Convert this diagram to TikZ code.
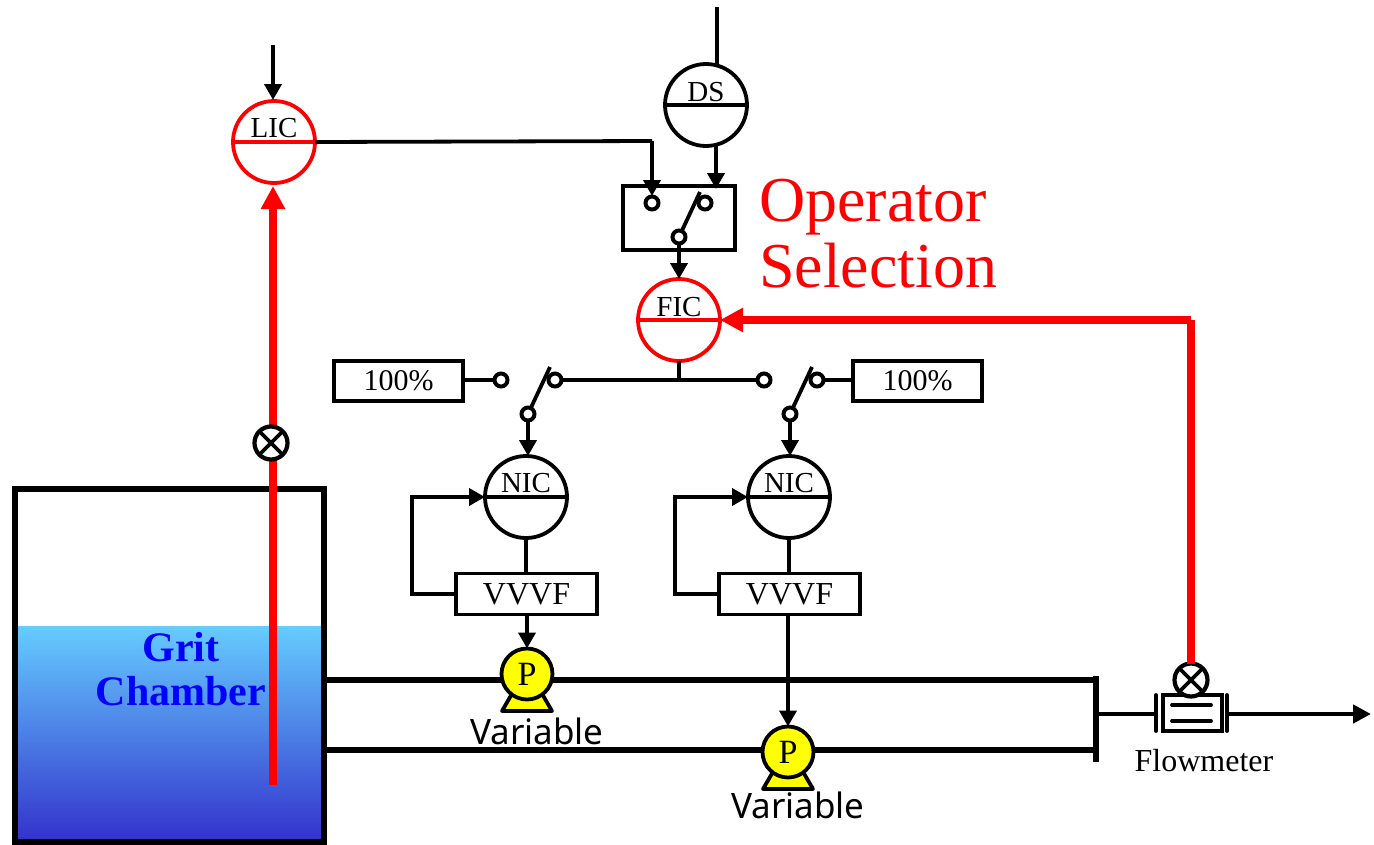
\documentclass[tikz,border=0pt]{standalone}
\usepackage{fontspec}
\setmainfont{Liberation Serif}
\newfontfamily\varfont{Noto Sans}
\usetikzlibrary{arrows.meta}
\definecolor{waterTop}{HTML}{66CCFF}
\definecolor{waterBot}{HTML}{3333CC}
\definecolor{pumpYellow}{HTML}{FFFF00}
\tikzset{
  inst/.style={circle,draw=black,line width=3.8pt,fill=white,minimum size=82pt,inner sep=0pt,outer sep=0pt},
  redinst/.style={inst,draw=red},
  lab/.style={font=\fontsize{29}{29}\selectfont,text=black,inner sep=0pt},
  bline/.style={draw=black,line width=3.8pt},
  barrow/.style={bline,-{Triangle[length=16pt,width=17pt]}},
  rline/.style={draw=red,line width=8pt},
  rarrow/.style={rline,-{Triangle[length=23pt,width=23pt]}},
  pipe/.style={draw=black,line width=5.5pt},
  contact/.style={circle,draw=black,line width=4pt,fill=white,minimum size=13pt,inner sep=0pt,outer sep=0pt},
  valve/.style={circle,draw=black,line width=4.2pt,fill=white,minimum size=33pt,inner sep=0pt,outer sep=0pt},
  box/.style={draw=black,line width=3.8pt,fill=white,inner sep=0pt,outer sep=0pt,font=\fontsize{30}{30}\selectfont},
  vvvf/.style={box,minimum width=141pt,minimum height=41pt,font=\fontsize{32}{32}\selectfont},
  pump/.style={circle,draw=black,line width=3.8pt,fill=pumpYellow,minimum size=51pt,inner sep=0pt,outer sep=0pt,font=\fontsize{34}{34}\selectfont},
  pumpbase/.style={draw=black,line width=3.8pt,fill=pumpYellow,line join=round},
  varlab/.style={font=\varfont\fontsize{35}{35}\selectfont,inner sep=0pt},
}
\begin{document}
\begin{tikzpicture}[x=1pt,y=-1pt]
\useasboundingbox (0,0) rectangle (1374,844);
% tank
\fill[top color=waterTop,bottom color=waterBot] (17,626) rectangle (322,840);
\node[draw=black,line width=6pt,minimum width=309pt,minimum height=353pt,inner sep=0pt,outer sep=0pt] (tank) at (169.5,665) {};
\node[font=\bfseries\fontsize{42}{44}\selectfont,text=blue,align=center,inner sep=0pt] (gc) at (181,669) {Grit\\Chamber};
% instruments
\node[redinst] (lic) at (274,142) {};
\node[inst] (ds) at (706,105) {};
\node[redinst] (fic) at (679,320) {};
\node[inst] (nica) at (526,497) {};
\node[inst] (nicb) at (789,497) {};
\node[lab] (liclab) at (274,128) {LIC};
\node[lab] (dslab) at (706,92) {DS};
\node[lab] (ficlab) at (679,307) {FIC};
\node[lab] (nicalab) at (526,483) {NIC};
\node[lab] (nicblab) at (789,483) {NIC};
\draw[draw=red,line width=3.8pt] (lic.west) -- (lic.east);
\draw[bline] (ds.west) -- (ds.east);
\draw[draw=red,line width=3.8pt] (fic.west) -- (fic.east);
\draw[bline] (nica.west) -- (nica.east);
\draw[bline] (nicb.west) -- (nicb.east);
% free-end coordinates
\coordinate (licin) at (273,45);
\coordinate (dsin) at (717,7);
\coordinate (swa) at (652,196);
\coordinate (swb) at (716,189);
\coordinate (licarr) at (273,186);
\coordinate (sensbot) at (273,785);
\coordinate (corner) at (1191,320);
\coordinate (out) at (1371,714);
% selector box
\node[box,minimum width=112pt,minimum height=64pt] (selbox) at (679,218) {};
\node[contact] (ca) at (652,203) {};
\node[contact] (cb) at (705,203) {};
\draw[bline] (679,237) -- (700,192);
\node[contact] (cc) at (679,237) {};
\draw[barrow] (licin) -- (273,100);
\draw[bline] (dsin) -- (717,64);
\draw[bline] (lic.east) -- (652,141);
\draw[barrow] (652,141) -- (swa);
\draw[barrow] (716,146) -- (swb);
\draw[barrow] (cc.south) -- (fic.north);
% bus and switches
\coordinate (busmid) at (679,380);
\node[contact] (la) at (501,380) {};
\node[contact] (lb) at (555,380) {};
\node[contact] (ra) at (764,380) {};
\node[contact] (rb) at (817,380) {};
\draw[bline] (fic.south) -- (busmid);
\draw[bline] (lb.east) -- (ra.west);
\draw[bline] (528,414) -- (550,367);
\draw[bline] (790,414) -- (812,367);
\node[contact] (lc) at (528,414) {};
\node[contact] (rc) at (790,414) {};
\node[box,minimum width=129pt,minimum height=40pt] (pa) at (398.5,381) {100\%};
\node[box,minimum width=129pt,minimum height=40pt] (pb) at (917.5,381) {100\%};
\draw[bline] (pa.east |- la) -- (la.west);
\draw[bline] (rb.east) -- (pb.west |- rb);
\draw[barrow] (lc.south) -- (528,456);
\draw[barrow] (rc.south) -- (790,456);
% VVVF
\node[vvvf] (va) at (526.5,594) {VVVF};
\node[vvvf] (vb) at (789.5,594) {VVVF};
\draw[bline] (nica.south) -- (va.north -| nica);
\draw[bline] (nicb.south) -- (vb.north -| nicb);
\draw[barrow] (va.west) -- (412,594) -- (412,497) -- (nica.west);
\draw[barrow] (vb.west) -- (675,594) -- (675,497) -- (nicb.west);
% pipes
\coordinate (mana) at (1096,680);
\coordinate (manb) at (1096,750);
\coordinate (mant) at (1096,676);
\coordinate (manbot) at (1096,762);
\coordinate (manm) at (1096,714);
\draw[pipe] (326,680) -- (mana);
\draw[pipe] (326,750) -- (manb);
\draw[draw=black,line width=6pt] (mant) -- (manbot);
% pumps
\draw[pumpbase] (513,692) -- (502,711) -- (552,711) -- (541,692) -- cycle;
\node[pump] (pumpa) at (527,674) {P};
\draw[pumpbase] (774,770) -- (763,789) -- (813,789) -- (802,770) -- cycle;
\node[pump] (pumpb) at (788,752) {P};
\draw[barrow] (va.south -| pumpa) -- (pumpa.north);
\draw[barrow] (vb.south -| pumpb) -- (pumpb.north);
\node[varlab] (vara) at (537,731) {Variable};
\node[varlab] (varb) at (798,805) {Variable};
% flowmeter
\draw[bline,line cap=round] (1156,695) -- (1156,731);
\draw[bline,line cap=round] (1227,695) -- (1227,731);
\node[box,minimum width=59pt,minimum height=36pt] (fm) at (1192.5,713) {};
\draw[bline,line cap=round] (1172,705) -- (1211,705);
\draw[bline,line cap=round] (1172,721) -- (1211,721);
\draw[draw=black,line width=4.5pt] (manm) -- (1156,714);
\draw[draw=black,line width=4.5pt,-{Triangle[length=18pt,width=18pt]}] (1227,714) -- (out);
\node[valve] (vf) at (1191,680) {};
\draw[bline] (vf.north west) -- (vf.south east);
\draw[bline] (vf.north east) -- (vf.south west);
\node[font=\fontsize{32}{32}\selectfont,inner sep=0pt] (fmlab) at (1204,761) {Flowmeter};
% red signals
\draw[rarrow] (sensbot) -- (licarr);
\draw[rline] (vf.north) -- (corner);
\draw[rarrow] (corner) -- (fic.east);
\node[valve] (vl) at (271,443) {};
\draw[bline] (vl.north west) -- (vl.south east);
\draw[bline] (vl.north east) -- (vl.south west);
% operator text
\node[font=\fontsize{64}{66}\selectfont,text=red,align=left,anchor=north west,inner sep=0pt] (op) at (759,179) {Operator\\Selection};
\end{tikzpicture}
\end{document}
